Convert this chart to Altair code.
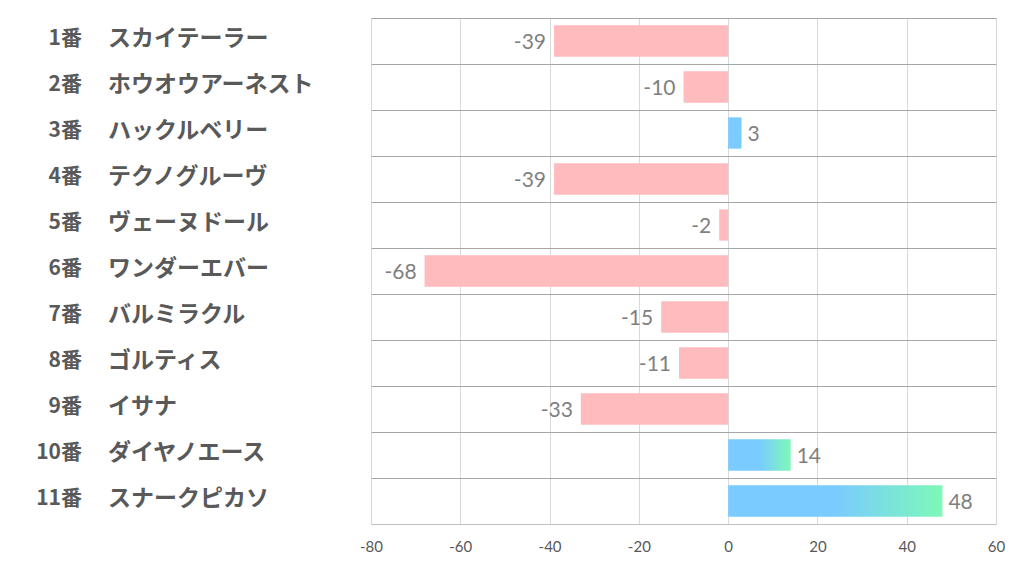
import altair as alt
import pandas as pd

nums = ["1番", "2番", "3番", "4番", "5番", "6番", "7番", "8番", "9番", "10番", "11番"]
names = ["スカイテーラー", "ホウオウアーネスト", "ハックルベリー", "テクノグルーヴ", "ヴェーヌドール",
         "ワンダーエバー", "バルミラクル", "ゴルティス", "イサナ", "ダイヤノエース", "スナークピカソ"]
values = [-39, -10, 3, -39, -2, -68, -15, -11, -33, 14, 48]
x_ticks = [-80, -60, -40, -20, 0, 20, 40, 60]

df = pd.DataFrame({"num": nums, "name": names, "value": values})

JP = "Noto Sans CJK JP"
y = alt.Y("num:N", sort=nums,
          scale=alt.Scale(paddingInner=0, paddingOuter=0),
          axis=alt.Axis(labels=False, ticks=False, domain=False, grid=True,
                        bandPosition=0, gridColor="#A6A6A6", gridWidth=1, title=None))
x = alt.X("value:Q", scale=alt.Scale(domain=[-80, 60], nice=False, zero=False),
          axis=alt.Axis(values=x_ticks, grid=True, gridColor="#D9D9D9", ticks=False,
                        domain=True, domainColor="#BFBFBF", labelFont="Lato",
                        labelFontSize=15, labelColor="#595959", labelPadding=15,
                        labelExpr="toString(datum.value)",
                        title=None, labelFlush=False))

base = alt.Chart(df).transform_calculate(label="toString(datum.value)")

neg_bar = base.transform_filter("datum.value < 0").mark_bar(
    color="#FFBBBD", height=alt.RelativeBandSize(0.68)
).encode(y=y, x=x, x2=alt.datum(0))

small_pos = base.transform_filter("datum.value > 0 && datum.value < 5").mark_bar(
    color="#7ACBFF", height=alt.RelativeBandSize(0.68)
).encode(y=y, x=x, x2=alt.datum(0))

grad = alt.Gradient(
    gradient="linear",
    stops=[alt.GradientStop(offset=0, color="#7ACBFF"),
           alt.GradientStop(offset=0.5, color="#7ACBFF"),
           alt.GradientStop(offset=1, color="#7DF9B8")],
    x1=0, x2=1, y1=0, y2=0,
)
big_pos = base.transform_filter("datum.value >= 5").mark_bar(
    color=grad, height=alt.RelativeBandSize(0.68)
).encode(y=y, x=x, x2=alt.datum(0))

neg_lbl = base.transform_filter("datum.value < 0").mark_text(
    align="right", baseline="middle", dx=-8, dy=2, font="Lato", fontSize=21, color="#7F7F7F"
).encode(y=y, x=x, text="label:N")

pos_lbl = base.transform_filter("datum.value > 0").mark_text(
    align="left", baseline="middle", dx=6, dy=2, font="Lato", fontSize=21, color="#7F7F7F"
).encode(y=y, x=x, text="label:N")

num_lbl = base.mark_text(
    align="right", baseline="middle", font=JP, fontWeight="bold", fontSize=21,
    color="#595959", dy=-2
).encode(y=y, x=alt.value(-289), text="num:N")

name_lbl = base.mark_text(
    align="left", baseline="middle", font=JP, fontWeight="bold", fontSize=23,
    color="#595959", dy=-2
).encode(y=y, x=alt.value(-263), text="name:N")

chart = alt.layer(neg_bar, small_pos, big_pos, neg_lbl, pos_lbl, num_lbl, name_lbl).properties(
    width=625, height=506,
    autosize=alt.AutoSizeParams(type="none"),
    padding={"left": 363, "top": 10, "right": 18, "bottom": 42},
).configure_view(stroke=None).configure(background="white")

chart.save("out.html", embed_options={"renderer": "svg", "actions": False})
